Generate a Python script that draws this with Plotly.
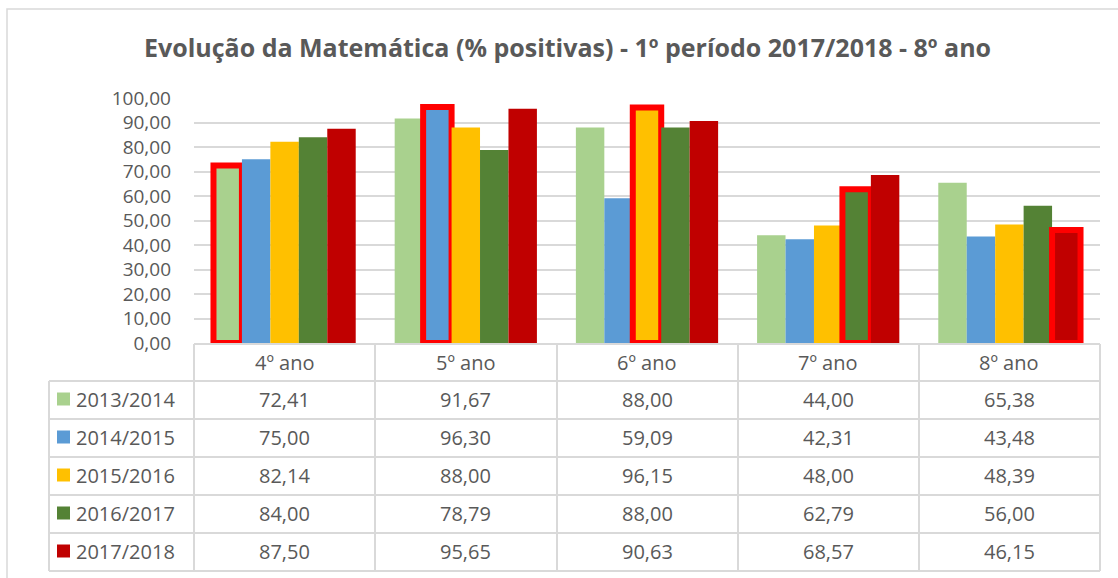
import plotly.graph_objects as go

# ---------------- data ----------------
categories = ["4º ano", "5º ano", "6º ano", "7º ano", "8º ano"]
series_names = ["2013/2014", "2014/2015", "2015/2016", "2016/2017", "2017/2018"]
v_2013_2014 = [72.41, 91.67, 88.00, 44.00, 65.38]
v_2014_2015 = [75.00, 96.30, 59.09, 42.31, 43.48]
v_2015_2016 = [82.14, 88.00, 96.15, 48.00, 48.39]
v_2016_2017 = [84.00, 78.79, 88.00, 62.79, 56.00]
v_2017_2018 = [87.50, 95.65, 90.63, 68.57, 46.15]
series_values = [v_2013_2014, v_2014_2015, v_2015_2016, v_2016_2017, v_2017_2018]
# category whose bar is outlined in red, per series
highlight = ["4º ano", "5º ano", "6º ano", "7º ano", "8º ano"]
y_ticks = [0, 10, 20, 30, 40, 50, 60, 70, 80, 90, 100]
title_text = "Evolução da Matemática (% positivas) - 1º período 2017/2018 - 8º ano"

# ---------------- style ----------------
colors = ["#A9D18E", "#5B9BD5", "#FFC000", "#548235", "#C00000"]
text_color = "#595959"
grid_color = "#D9D9D9"
FONT = "Open Sans"

W, H = 1118, 578
L, RGT, T, BOT = 194, 1100, 98, 343  # plot area in pixels


def px(x):
    return (x - L) / (RGT - L)


def py(y):
    return (BOT - y) / (BOT - T)


def fmt(v):
    return f"{v:.2f}".replace(".", ",")


fig = go.Figure()
for name, vals, col, hl in zip(series_names, series_values, colors, highlight):
    lw = [6 if c == hl else 0 for c in categories]
    fig.add_trace(go.Bar(
        x=categories, y=vals, name=name,
        marker=dict(color=col, line=dict(color="#FF0000", width=lw)),
    ))

shapes = []
annotations = []

# outer chart border
shapes.append(dict(type="rect", xref="paper", yref="paper",
                   x0=px(7), x1=px(1130), y0=py(9), y1=py(590),
                   line=dict(color=grid_color, width=1.5), layer="below"))

# table lines
row_edges = [344, 381, 419, 457, 495, 533, 571]
col_edges = [194, 375, 557, 738, 919, 1100]
legend_left = 49
shapes.append(dict(type="line", xref="paper", yref="paper",
                   x0=px(col_edges[0]), x1=px(col_edges[-1]),
                   y0=py(row_edges[0]), y1=py(row_edges[0]),
                   line=dict(color=grid_color, width=2)))
for ry in row_edges[1:]:
    shapes.append(dict(type="line", xref="paper", yref="paper",
                       x0=px(legend_left), x1=px(col_edges[-1]),
                       y0=py(ry), y1=py(ry),
                       line=dict(color=grid_color, width=2)))
for cx in col_edges:
    shapes.append(dict(type="line", xref="paper", yref="paper",
                       x0=px(cx), x1=px(cx),
                       y0=py(row_edges[0]), y1=py(row_edges[-1]),
                       line=dict(color=grid_color, width=2)))
shapes.append(dict(type="line", xref="paper", yref="paper",
                   x0=px(legend_left), x1=px(legend_left),
                   y0=py(row_edges[1]), y1=py(row_edges[-1]),
                   line=dict(color=grid_color, width=2)))

# header (category) labels
hc = (row_edges[0] + row_edges[1]) / 2
for c in categories:
    annotations.append(dict(x=c, xref="x", y=py(hc), yref="paper",
                            text=c, showarrow=False,
                            font=dict(family=FONT, size=20, color=text_color),
                            xanchor="center", yanchor="middle"))

# rows
for i, (name, vals, col) in enumerate(zip(series_names, series_values, colors)):
    cy = (row_edges[i + 1] + row_edges[i + 2]) / 2 - 1
    shapes.append(dict(type="rect", xref="paper", yref="paper",
                       x0=px(57), x1=px(70), y0=py(cy - 6.5), y1=py(cy + 6.5),
                       fillcolor=col, line=dict(width=0)))
    annotations.append(dict(x=px(74), xref="paper", y=py(cy), yref="paper",
                            text=name, showarrow=False,
                            font=dict(family=FONT, size=20, color=text_color),
                            xanchor="left", yanchor="middle"))
    for c, v in zip(categories, vals):
        annotations.append(dict(x=c, xref="x", y=py(cy), yref="paper",
                                text=fmt(v), showarrow=False,
                                font=dict(family=FONT, size=20, color=text_color),
                                xanchor="center", yanchor="middle"))

fig.update_layout(
    width=W, height=H,
    margin=dict(l=L, r=W - RGT, t=T, b=H - BOT),
    paper_bgcolor="white", plot_bgcolor="white",
    separators=",.",
    showlegend=False,
    barmode="group", bargap=0.215, bargroupgap=0,
    title=dict(text=f"<b>{title_text}</b>", x=567.5 / W, xanchor="center",
               y=1 - 48 / H, yanchor="middle", yref="container",
               font=dict(family=FONT, size=25, color=text_color)),
    xaxis=dict(showticklabels=False, showgrid=False, zeroline=False,
               showline=False, ticks=""),
    yaxis=dict(range=[0, 100], tickvals=y_ticks, tickformat=".2f",
               showgrid=True, gridcolor=grid_color, gridwidth=2,
               zeroline=False, showline=False, ticks="",
               ticklabelstandoff=22,
               tickfont=dict(family=FONT, size=19, color=text_color)),
    shapes=shapes, annotations=annotations,
)

fig.write_html("out.html", config={"displayModeBar": False},
               post_script="document.body.style.margin='0';document.body.style.overflow='hidden';")
